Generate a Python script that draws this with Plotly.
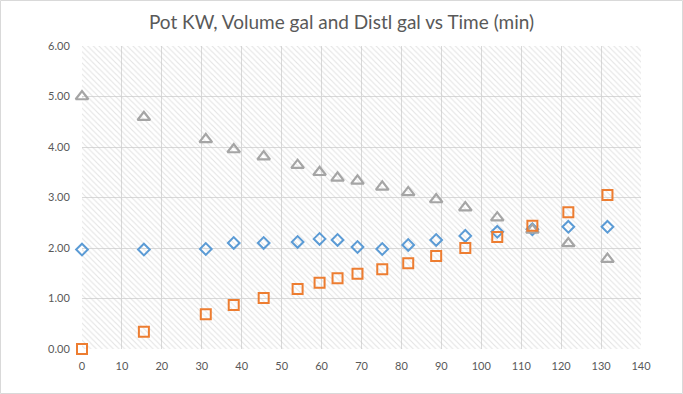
import plotly.graph_objects as go

time_min = [0, 15.5, 31, 38, 45.5, 54, 59.5, 64, 69, 75.2, 81.7, 88.7, 96, 104, 112.8, 121.8, 131.6]
pot_kw = [1.97, 1.97, 1.98, 2.10, 2.10, 2.12, 2.18, 2.16, 2.02, 1.98, 2.06, 2.16, 2.24, 2.32, 2.37, 2.42, 2.42]
volume_gal = [5.00, 4.59, 4.15, 3.95, 3.81, 3.64, 3.50, 3.39, 3.33, 3.21, 3.10, 2.96, 2.80, 2.60, 2.36, 2.09, 1.78]
distl_gal = [0.00, 0.34, 0.69, 0.87, 1.01, 1.19, 1.31, 1.40, 1.49, 1.58, 1.70, 1.84, 2.00, 2.22, 2.44, 2.71, 3.05]

x_range = [0, 140]
y_range = [0, 6]
x_ticks = list(range(0, 141, 10))
y_ticks = [0, 1, 2, 3, 4, 5, 6]
y_tick_labels = [f"{v:.2f}" for v in y_ticks]

fig = go.Figure()

# hatched plot-area background
fig.add_trace(go.Scatter(
    x=[x_range[0], x_range[1], x_range[1], x_range[0], x_range[0]],
    y=[y_range[0], y_range[0], y_range[1], y_range[1], y_range[0]],
    mode="lines", line=dict(width=0), fill="toself",
    fillcolor="rgba(0,0,0,0)",
    fillpattern=dict(shape="\\", fgcolor="#c8c8c8", bgcolor="rgba(0,0,0,0)", size=4, solidity=0.28),
    hoverinfo="skip", showlegend=False))

fig.add_trace(go.Scatter(x=time_min, y=pot_kw, mode="markers", name="Pot KW", cliponaxis=False,
                         marker=dict(symbol="diamond-open", size=9, color="#5B9BD5", line=dict(width=2, color="#5B9BD5"))))
fig.add_trace(go.Scatter(x=time_min, y=volume_gal, mode="markers", name="Volume gal", cliponaxis=False,
                         marker=dict(symbol="triangle-up-open", size=11, color="#A5A5A5", line=dict(width=2.2, color="#A5A5A5"))))
fig.add_trace(go.Scatter(x=time_min, y=distl_gal, mode="markers", name="Distl gal", cliponaxis=False,
                         marker=dict(symbol="square-open", size=10, color="#ED7D31", line=dict(width=2, color="#ED7D31"))))

L, R, T, B = 82, 42, 46, 45
W, H = 683, 394
pw, ph = W - L - R, H - T - B

fig.update_layout(
    width=W, height=H,
    margin=dict(l=L, r=R, t=T, b=B),
    paper_bgcolor="white", plot_bgcolor="white",
    showlegend=False,
    title=dict(text="Pot KW, Volume gal and Distl gal vs Time (min)", x=0.5, xanchor="center",
               y=1 - 22 / H, yanchor="middle",
               font=dict(family="Lato, Open Sans, sans-serif", size=19, color="#595959")),
    font=dict(family="Lato, Open Sans, sans-serif", size=11, color="#595959"),
    xaxis=dict(range=x_range, tickvals=x_ticks, showgrid=True, gridcolor="#d9d9d9", gridwidth=1,
               zeroline=False, showline=False, ticks="outside", ticklen=7, tickcolor="rgba(0,0,0,0)",
               fixedrange=True, automargin=False),
    yaxis=dict(range=y_range, tickvals=y_ticks, ticktext=y_tick_labels, showgrid=True,
               gridcolor="#d9d9d9", gridwidth=1, zeroline=False, showline=False,
               ticks="outside", ticklen=9, tickcolor="rgba(0,0,0,0)",
               fixedrange=True, automargin=False),
    shapes=[dict(type="rect", xref="paper", yref="paper",
                 x0=(0.5 - L) / pw, x1=(W - 0.5 - L) / pw,
                 y0=-(B - 0.5) / ph, y1=1 + (T - 0.5) / ph,
                 line=dict(color="#d9d9d9", width=1), fillcolor="rgba(0,0,0,0)", layer="below")],
)

fig.write_html("out.html", config={"displayModeBar": False},
               post_script="document.body.style.margin='0';document.body.style.overflow='hidden';")
